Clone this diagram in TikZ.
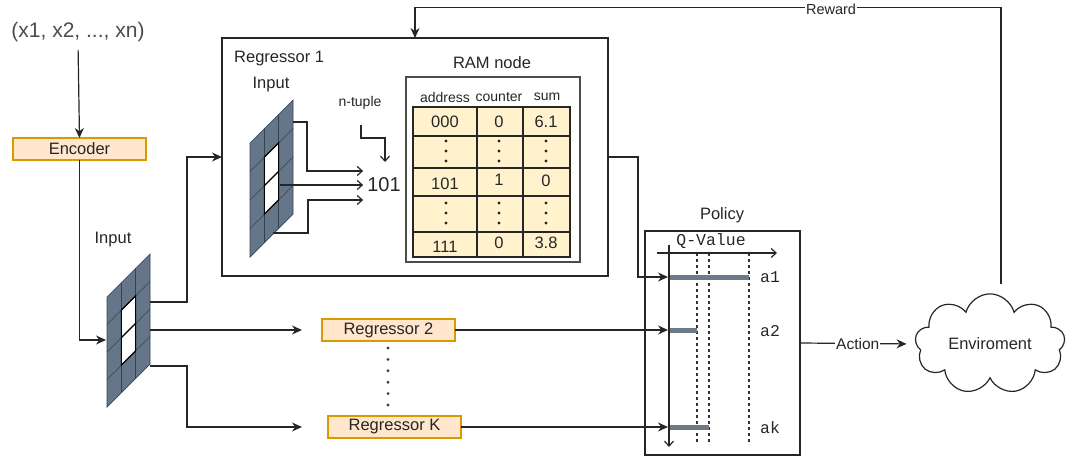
\documentclass[tikz,border=0pt]{standalone}
\usepackage{fontspec}
\setmainfont{Liberation Sans}
\setmonofont{Liberation Mono}
\usetikzlibrary{arrows.meta,shapes.symbols,calc}

\definecolor{orfill}{HTML}{FFE6CC}
\definecolor{ordraw}{HTML}{D79B00}
\definecolor{tabfill}{HTML}{FFF2CC}
\definecolor{slate}{HTML}{647687}
\definecolor{slateline}{HTML}{314354}
\definecolor{ink}{HTML}{262626}
\definecolor{barc}{HTML}{6D7B88}

% slanted 3x4 input panel with two highlighted cells, drawn in local units
\newcommand{\inputpanel}[1]{%
  \fill[slate] (0,0) rectangle (43,#1);
  \fill[white] (14.33,#1/4) rectangle (28.67,3*#1/4);
  \foreach \k in {1,2} \draw[slateline,line width=0.7] (14.33*\k,0) -- (14.33*\k,#1);
  \foreach \k in {1,2,3} \draw[slateline,line width=0.7] (0,\k*#1/4) -- (43,\k*#1/4);
  \draw[slateline,line width=0.7] (0,0) rectangle (43,#1);
  \draw[black,line width=1.1] (14.33,#1/4) rectangle (28.67,3*#1/4);
  \draw[black,line width=1.1] (14.33,#1/2) -- (28.67,#1/2);
}

\tikzset{
  txt/.style={text=ink, inner sep=1pt, font=\fontsize{16.5}{19}\selectfont},
  small/.style={text=ink, inner sep=1pt, font=\fontsize{14}{16}\selectfont},
  mono/.style={text=ink, inner sep=1pt, font=\ttfamily\fontsize{16.5}{19}\selectfont},
  obox/.style={draw=ordraw, fill=orfill, line width=1.2pt, minimum width=133pt,
    minimum height=22pt, inner sep=0pt, outer sep=0pt, text=ink,
    font=\fontsize{16.5}{19}\selectfont},
  frame/.style={draw=black!85, line width=1.2pt, inner sep=0pt, outer sep=0pt, anchor=north west},
  arr/.style={draw=black!85, line width=1.2pt, -{Stealth[length=10pt,width=9pt]}},
  barb/.style={draw=black!85, line width=1.2pt, -{Straight Barb[length=5pt,width=9pt]}},
  qbar/.style={draw=barc, line width=5pt},
  qdot/.style={draw=black!80, line width=1.3pt, dash pattern=on 3pt off 3pt},
}

\begin{document}
\begin{tikzpicture}[x=1pt,y=-1pt]
\useasboundingbox (0,0) rectangle (1067,457);

% ---------- input and encoder ----------
\node[text=black!70, inner sep=1pt, font=\fontsize{21}{24}\selectfont] (xs) at (78,32) {(x1, x2, ..., xn)};
\node[obox] (enc) at (79.5,149) {Encoder};
\draw[arr, shorten <=7pt] (xs.south) -- (enc.north);

\node[txt] (inlbl) at (113,240) {Input};
\begin{scope}[shift={(107,297)}, yslant=1]
  \inputpanel{110}
\end{scope}
\coordinate (gin) at (106,340);
\draw[arr] (enc.south) |- (gin);

% ---------- regressor 1 ----------
\node[frame, minimum width=386pt, minimum height=238pt] (reg1) at (222,38) {};
\node[txt, anchor=west] (r1lbl) at (233,59) {Regressor 1};
\node[txt] (r1in) at (271,85) {Input};
\begin{scope}[shift={(250,143)}, yslant=1]
  \inputpanel{114}
\end{scope}

\node[text=ink, inner sep=1pt, font=\fontsize{20}{23}\selectfont] (t101) at (384,185) {101};
\coordinate (i1) at (293,122);
\coordinate (i2) at (280,185);
\coordinate (i3) at (273,233);
\draw[barb, shorten >=3pt] (i1) -- ++(14,0) |- ([yshift=14pt]t101.west);
\draw[barb, shorten >=3pt] (i2) -- (t101.west);
\draw[barb, shorten >=3pt] (i3) -- ++(35,0) |- ([yshift=-15pt]t101.west);

\node[small] (ntup) at (360,103) {n-tuple};
\coordinate (nt0) at (361,125);
\draw[barb] (nt0) |- ++(24,13) -- ++(0,24);

% RAM node table
\node[txt] (ramlbl) at (492,63) {RAM node};
\node[frame, draw=black!70, minimum width=174pt, minimum height=185pt] (ram) at (406,77) {};
\node[small] (haddr) at (445,97) {address};
\node[small] (hcnt) at (499,97) {counter};
\node[small] (hsum) at (547,97) {sum};
\fill[tabfill] (413,107) rectangle (570,257);
\foreach \yy in {136,168,196,232} \draw[black!85, line width=1.2pt] (413,\yy) -- (570,\yy);
\foreach \xx in {477,523} \draw[black!85, line width=1.2pt] (\xx,107) -- (\xx,257);
\draw[black!85, line width=1.2pt] (413,107) rectangle (570,257);
\node[txt] (c11) at (445,122) {000};
\node[txt] (c12) at (499,122) {0};
\node[txt] (c13) at (546,122) {6.1};
\node[txt] (c31) at (445,184) {101};
\node[txt] (c32) at (499,180) {1};
\node[txt] (c33) at (546,181) {0};
\node[txt] (c51) at (445,247) {111};
\node[txt] (c52) at (499,243) {0};
\node[txt] (c53) at (546,243) {3.8};
\foreach \xx in {446,499,546}
  \foreach \yy in {141,151,161,203,213,223}
    \fill[black!85] (\xx,\yy) circle (1.6);

% ---------- regressors 2 .. K ----------
\node[obox] (reg2) at (388.5,330) {Regressor 2};
\node[obox] (regK) at (394.5,427) {Regressor K};
\foreach \k in {0,...,5} \fill[black!75] (388,348+11.4*\k) circle (1.6);

\coordinate (o1) at (150,302);
\coordinate (o2) at (150,330);
\coordinate (o3) at (150,366);
\draw[arr] (o1) -- ++(37,0) |- (reg1.west);
\draw[arr, shorten >=20pt] (o2) -- (reg2.west);
\draw[arr, shorten >=26pt] (o3) -- ++(37,0) |- (regK.west);

% ---------- policy ----------
\node[txt] (pollbl) at (722,215) {Policy};
\node[frame, minimum width=155pt, minimum height=224pt] (pol) at (645,231) {};
\node[mono] (qlbl) at (711,241) {Q-Value};

\coordinate (qx0) at (657,253);
\coordinate (qx1) at (777,253);
\coordinate (qy0) at (669,245);
\coordinate (qy1) at (669,447);
\foreach \xx in {697,709,749} \draw[qdot] (\xx,253) -- (\xx,443);
\draw[qbar] (669,277) -- (749,277);
\draw[qbar] (669,330) -- (697,330);
\draw[qbar] (669,427) -- (709,427);
\draw[barb] (qx0) -- (qx1);
\draw[barb] (qy0) -- (qy1);
\node[mono] (a1) at (770,277) {a1};
\node[mono] (a2) at (770,331) {a2};
\node[mono] (ak) at (770,428) {ak};

\coordinate (qa1) at (668,277);
\coordinate (qa2) at (668,330);
\coordinate (qak) at (668,427);
\draw[arr] (reg1.east) -- ++(30,0) |- (qa1);
\draw[arr] (reg2.east) -- (qa2);
\draw[arr] (regK.east) -- (qak);

% ---------- environment ----------
\node[cloud, cloud puffs=9, aspect=1.6, draw=black!85, line width=1.2pt,
      minimum width=150pt, minimum height=98pt, inner sep=0pt, text=ink,
      font=\fontsize{16.5}{19}\selectfont] (env) at (990,344) {Enviroment};
\draw[arr, shorten >=9pt] (pol.east) -- node[fill=white, txt, font=\fontsize{15.5}{18}\selectfont] (actlbl) {Action} (env.west);
\draw[arr, shorten <=9pt] ([xshift=11pt]env.north) -- ++(0,-286) -| (reg1.north);
\node[fill=white, text=ink, inner sep=1pt, font=\fontsize{14.5}{17}\selectfont] (rwlbl) at (831,9) {Reward};
\end{tikzpicture}
\end{document}
